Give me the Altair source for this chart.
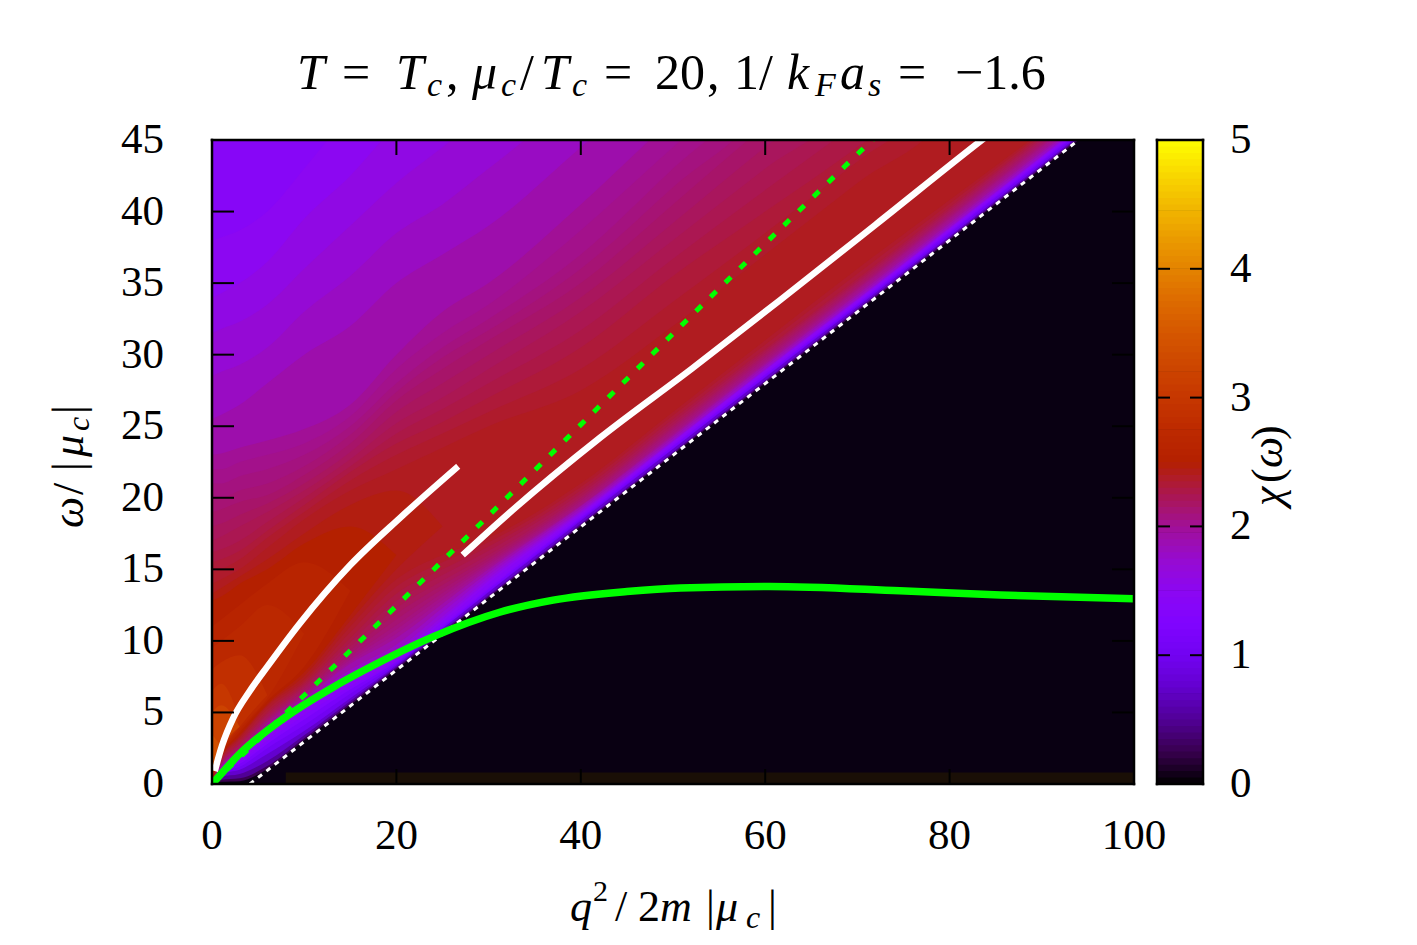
import altair as alt
import pandas as pd

# ---------- data ----------
x_grid = [0, 1, 3, 6, 10, 15, 20, 25, 30, 40, 50, 60, 70, 80, 90, 100]

# chi level: (lower boundary of region chi>=level, upper boundary); upper list is open (above the frame) once it ends
contours = [
    (0.25, [.05, .15, .2, 1.05, 3.05, 5.5, 8, 10.5, 13, 18, 23, 28, 33, 38, 43, 48], []),
    (0.5, [.1, .3, .4, 1.25, 3.2, 5.65, 8.1, 10.6, 13.1, 18.1, 23.1, 28.1, 33.1, 38.1, 43.1, 48.1], []),
    (0.75, [.1, .5, .7, 1.6, 3.4, 5.8, 8.2, 10.7, 13.2, 18.2, 23.2, 28.2, 33.2, 38.2, 43.2, 48.2], []),
    (1.0, [.1, .7, 1.0, 2.1, 3.7, 6, 8.3, 10.85, 13.4, 18.4, 23.4, 28.4, 33.35, 38.3, 43.3, 48.3], []),
    (1.15, [.1, .8, 1.2, 2.5, 4.1, 6.3, 8.4, 10.9, 13.45, 18.5, 23.45, 28.45, 33.45, 38.45, 43.45, 48.4], []),
    (1.3, [.1, .85, 1.4, 2.8, 4.5, 6.6, 8.5, 11, 13.6, 18.6, 23.6, 28.6, 33.55, 38.55, 43.55, 48.5], []),
    (1.4, [.1, .9, 1.55, 3.0, 4.8, 6.8, 8.55, 11.1, 13.7, 18.7, 23.65, 28.65, 33.6, 38.6, 43.6, 48.6], []),
    (1.5, [.1, .95, 1.7, 3.2, 5.1, 7, 8.65, 11.3, 14, 18.8, 23.75, 28.75, 33.7, 38.7, 43.7, 48.7],
     [38, 38.2, 38.7, 40, 43, 47, 51]),
    (1.6, [.1, 1, 1.8, 3.4, 5.2, 7.2, 8.9, 11.5, 14.2, 18.9, 23.9, 28.9, 33.8, 38.8, 43.8, 48.8],
     [34, 34.3, 35, 36.5, 39.5, 42.5, 46, 48, 50]),
    (1.7, [.1, 1.05, 1.95, 3.6, 5.4, 7.5, 9.1, 11.7, 14.4, 19, 23.95, 28.95, 33.85, 38.85, 43.85, 48.9],
     [31.5, 31.8, 32.3, 33.5, 36, 39, 42, 44.5, 47, 51]),
    (1.8, [.1, 1.1, 2.1, 3.8, 5.6, 7.8, 9.4, 12, 14.6, 19.1, 24, 29, 33.9, 38.9, 43.9, 49],
     [28.5, 28.8, 29.3, 30.5, 33, 35.5, 38.5, 40.5, 43, 48, 52]),
    (1.9, [.2, 1.15, 2.2, 3.95, 5.8, 8, 9.75, 12.3, 14.8, 19.25, 24.15, 29.15, 34.05, 39.05, 44.05, 49],
     [25.5, 25.8, 26.5, 28, 30, 32, 35, 37, 39, 44.5, 50]),
    (2.0, [.2, 1.2, 2.3, 4.1, 6, 8.4, 10.2, 12.6, 15, 19.4, 24.3, 29.3, 34.2, 39.2, 44.2, 49],
     [23, 23.1, 23.5, 24, 24.8, 26.5, 30, 33, 35, 40.5, 46.5, 52]),
    (2.04, [.2, 1.25, 2.35, 4.2, 6.1, 8.55, 10.5, 12.85, 15.15, 19.45, 24.4, 29.4, 34.35, 39.35, 44.35, 49.3],
     [22, 22, 22.5, 23, 23.8, 25.7, 29, 31.5, 33.5, 38.7, 44.5, 50]),
    (2.08, [.2, 1.3, 2.4, 4.3, 6.2, 8.7, 10.8, 13.1, 15.3, 19.5, 24.5, 29.5, 34.5, 39.5, 44.5, 49.5],
     [21, 21, 21.5, 22, 23, 25, 28, 30.5, 32.5, 37, 43, 49]),
    (2.12, [.2, 1.35, 2.45, 4.4, 6.3, 8.9, 11.1, 13.35, 15.45, 19.65, 24.65, 29.65, 34.6, 39.6, 44.6, 49.6],
     [20, 20, 20.5, 21, 22.2, 24.4, 27.4, 29.8, 31.7, 36, 41.7, 47.5]),
    (2.16, [.2, 1.4, 2.5, 4.5, 6.4, 9.1, 11.5, 13.6, 15.6, 19.8, 24.8, 29.8, 34.7, 39.7, 44.7, 49.7],
     [19, 19.2, 19.7, 20.2, 21.6, 23.8, 26.8, 29, 31, 35, 40.5, 46, 51]),
    (2.2, [.2, 1.45, 2.6, 4.6, 6.55, 9.35, 11.9, 13.9, 15.8, 19.95, 24.95, 29.95, 34.85, 39.85, 44.85, 49.85],
     [18, 18.2, 18.8, 19.6, 21, 23.2, 26, 28, 30, 34, 39.2, 44.5, 49.5]),
    (2.24, [.2, 1.5, 2.7, 4.7, 6.7, 9.6, 12.3, 14.2, 16, 20.1, 25.1, 30.1, 35, 40, 45, 50],
     [17, 17.3, 18, 19, 20.5, 22.7, 25.2, 27, 29, 33, 38, 43, 48]),
    (2.28, [.2, 1.55, 2.8, 4.85, 6.85, 9.9, 12.8, 14.6, 16.3, 20.3, 25.3, 30.25, 35.15, 40.15, 45.15, 50.15],
     [16.2, 16.4, 17, 18.3, 20, 22.2, 24.5, 26.2, 28, 31.7, 36.7, 41.5, 46.2, 51]),
    (2.32, [.2, 1.6, 2.9, 5, 7, 10.2, 13.3, 15, 16.6, 20.5, 25.5, 30.4, 35.3, 40.3, 45.3, 50.3],
     [15.5, 15.7, 16.3, 17.7, 19.5, 21.8, 23.8, 25.3, 27, 30.5, 35.5, 40, 44.5, 49.5]),
    (2.36, [.25, 1.7, 3.05, 5.2, 7.15, 10.6, 13.8, 15.5, 16.9, 20.75, 25.75, 30.7, 35.65, 40.55, 45.45, 50.45],
     [14.8, 15, 15.7, 17.2, 19, 21.2, 23, 24.5, 26, 29, 33.7, 38.5, 43.5, 48.5]),
    (2.4, [.3, 1.8, 3.2, 5.4, 7.3, 11, 14.3, 16, 17.2, 21, 26, 31, 36, 40.8, 45.6, 50.6],
     [14, 14.3, 15, 16.5, 18.5, 20.5, 22, 23.5, 25, 27.5, 32, 37, 42, 47]),
    (2.45, [.3, 1.85, 3.3, 5.5, 7.55, 11.4, 15, 18], [13.3, 13.7, 14.5, 15.7, 17.5, 19.5, 20.5, 18]),
    (2.5, [.3, 1.9, 3.4, 5.6, 7.8, 11.8, 16], [12.8, 13.1, 14, 15, 16.8, 18, 16]),
    (2.6, [.4, 2, 3.6, 5.8, 8.2, 13.5], [11, 11.5, 12.5, 14, 15.5, 13.5]),
    (2.7, [.5, 2.1, 3.8, 6, 10.5], [9.5, 10, 11, 12.5, 10.5]),
    (2.85, [.6, 2.2, 4, 6.2], [8, 8.5, 9, 6.2]),
    (3.0, [.7, 2.3, 4.5], [6.5, 7, 4.5]),
    (3.2, [.8, 2.4, 4], [5, 5.5, 4]),
    (3.4, [.9, 2.6], [3.5, 2.6]),
]

white_left_x = [0.3, 1.1, 2.3, 4.1, 6, 9.5, 15, 20.4, 26.7]
white_left_y = [0.9, 2.7, 4.6, 6.5, 8.2, 11.2, 15.3, 18.6, 22.2]
white_right_x = [27.2, 32, 42.1, 52, 61.6, 72, 83.3, 84.5]
white_right_y = [16, 18.8, 24.2, 29, 33.8, 39.1, 44.9, 45.5]
dashed_x = [0, 9.2, 24.7, 53.7, 71.6, 75]
dashed_y = [0, 5.7, 15.4, 33.8, 45, 47.1]
dotted_x = [4.1, 94]
dotted_y = [0, 45]
green_x = [0.3, 3, 7.7, 13.1, 16.8, 24, 31.2, 37, 45, 50.8, 60.5, 74.6, 85.5, 100]
green_y = [0.2, 2.1, 4.55, 6.75, 8.05, 10.3, 12, 12.85, 13.45, 13.7, 13.8, 13.5, 13.2, 12.95]
floor_x = [8, 100]
floor_top = [0.8, 0.8]

x_ticks = [0, 20, 40, 60, 80, 100]
y_ticks = [0, 5, 10, 15, 20, 25, 30, 35, 40, 45]
cb_ticks = [0, 1, 2, 3, 4, 5]
cb_stops = [i / 20 for i in range(100)]

palette_domain = [0, .25, .5, .75, 1, 1.25, 1.5, 1.75, 2, 2.25, 2.5, 2.75, 3, 3.25, 3.5, 3.75, 4, 4.25, 4.5, 4.75, 5]
palette_range = ["#000000", "#39004f", "#510096", "#6301ce", "#7202f2", "#8004ff", "#8c07f2", "#970bce",
                 "#a11096", "#ab174f", "#b42000", "#bd2a00", "#c63700", "#cd4600", "#d55700", "#dd6b00",
                 "#e48300", "#eb9d00", "#f2ba00", "#f9da00", "#ffff00"]

# ---------- text pieces: text, left px, baseline px, size, italic ----------
FONT = "Liberation Serif"
title_pieces = [
    ("T", 297, 88, 50, True), ("=", 342, 88, 50, False), ("T", 396, 88, 50, True), ("c", 427, 95, 34, True),
    (",", 446, 88, 50, False), ("μ", 472, 88, 50, True), ("c", 501, 95, 34, True), ("/", 520, 88, 50, False),
    ("T", 541, 88, 50, True), ("c", 572, 95, 34, True), ("=", 604, 88, 50, False), ("20", 655, 88, 50, False),
    (",", 707, 88, 50, False), ("1", 734, 88, 50, False), ("/", 759, 88, 50, False), ("k", 787, 88, 50, True),
    ("F", 815, 95, 34, True), ("a", 840, 88, 50, True), ("s", 868, 95, 34, True), ("=", 898, 88, 50, False),
    ("−1.6", 955, 88, 50, False),
]
xtitle_pieces = [
    ("q", 570, 920, 44, True), ("2", 593, 900, 30, False), ("/", 615, 920, 44, False), ("2", 638, 920, 44, False),
    ("m", 660, 920, 44, True), ("|", 706, 920, 44, False), ("μ", 716, 920, 44, True), ("c", 746, 927, 32, True),
    ("|", 768, 920, 44, False),
]
ytitle_pieces = [
    ("ω", 83, 527, 44, True), ("/", 83, 494, 44, False), ("|", 83, 470, 44, False), ("μ", 83, 456, 44, True),
    ("c", 89, 430, 32, True), ("|", 83, 413, 44, False),
]
cb_title_pieces = [
    ("χ", 1282, 505, 44, True), ("(", 1282, 482, 44, False), ("ω", 1282, 467, 44, True), (")", 1282, 439, 44, False),
]

PLOT_LEFT, PLOT_TOP, W, H = 212, 139, 922, 644
CB_LEFT, CB_W = 1157, 46
BLACK_BG = "#090012"
LABEL_SIZE = 43

sx = alt.Scale(domain=[0, 100], nice=False, zero=False)
sy = alt.Scale(domain=[0, 45], nice=False, zero=False)
sc = alt.Scale(domain=palette_domain, range=palette_range, interpolate="rgb")


def X(field="x"):
    return alt.X(f"{field}:Q", scale=sx, axis=None)


def Y(field="y"):
    return alt.Y(f"{field}:Q", scale=sy, axis=None)


layers = []

# floor band at omega ~ 0
layers.append(
    alt.Chart(pd.DataFrame({"x": floor_x, "y": floor_top, "y0": [0, 0]}))
    .mark_area(clip=True, color="#1a0f06")
    .encode(x=X(), y=Y(), y2="y0:Q")
)

# colour field: nested regions chi >= level, painted from low to high
for chi, low, high in contours:
    n = len(low)
    top = list(high) + [60] * (n - len(high))
    df = pd.DataFrame({"x": x_grid[:n], "low": low, "top": top, "chi": [chi] * n})
    layers.append(
        alt.Chart(df)
        .mark_area(clip=True, interpolate="monotone")
        .encode(x=X(), y=Y("low"), y2="top:Q", color=alt.Color("chi:Q", scale=sc, legend=None))
    )


def line(xs, ys, color, width, dash=None, cap="butt"):
    kw = dict(clip=True, color=color, strokeWidth=width, strokeCap=cap, interpolate="monotone")
    if dash:
        kw["strokeDash"] = dash
    return alt.Chart(pd.DataFrame({"x": xs, "y": ys, "i": range(len(xs))})).mark_line(**kw).encode(
        x=X(), y=Y(), order="i:Q"
    )


layers.append(line(dotted_x, dotted_y, "white", 3, dash=[5, 5.5]))
layers.append(line(dashed_x, dashed_y, "#00ff00", 5, dash=[8, 12.5]))
layers.append(line(white_left_x, white_left_y, "white", 6.5))
layers.append(line(white_right_x, white_right_y, "white", 6.5))
layers.append(line(green_x, green_y, "#00ff00", 7.5, cap="round"))

# inward ticks
xt = pd.DataFrame({"x": x_ticks[1:-1]})
yt = pd.DataFrame({"y": y_ticks[1:-1]})
layers.append(alt.Chart(xt).mark_rule(color="black", strokeWidth=2).encode(
    x=X(), y=alt.value(0), y2=alt.value(15)))
layers.append(alt.Chart(xt).mark_rule(color="black", strokeWidth=2).encode(
    x=X(), y=alt.value(H - 15), y2=alt.value(H)))
layers.append(alt.Chart(yt).mark_rule(color="black", strokeWidth=2).encode(
    y=Y(), x=alt.value(0), x2=alt.value(22)))
layers.append(alt.Chart(yt).mark_rule(color="black", strokeWidth=2).encode(
    y=Y(), x=alt.value(W - 22), x2=alt.value(W)))

# tick labels
layers.append(alt.Chart(pd.DataFrame({"x": x_ticks})).mark_text(
    font=FONT, fontSize=LABEL_SIZE, align="center", baseline="alphabetic", color="black"
).encode(x=X(), y=alt.value(848 - PLOT_TOP), text="x:N"))
layers.append(alt.Chart(pd.DataFrame({"y": y_ticks})).mark_text(
    font=FONT, fontSize=LABEL_SIZE, align="right", baseline="middle", color="black"
).encode(y=Y(), x=alt.value(164 - PLOT_LEFT), text="y:N"))


def frame(w, h):
    out = []
    one = pd.DataFrame({"a": [0]})
    for (a, b, c, d) in [(0, w, 0, 0), (0, w, h, h), (0, 0, 0, h), (w, w, 0, h)]:
        out.append(alt.Chart(one).mark_rule(color="black", strokeWidth=2.5, strokeCap="square").encode(
            x=alt.value(a), x2=alt.value(b), y=alt.value(c), y2=alt.value(d)))
    return out


def text_layers(pieces, ox, oy, angle=0):
    out = []
    for text, px, py, size, italic in pieces:
        mk = dict(font=FONT, fontSize=size, align="left", baseline="alphabetic", color="black", angle=angle)
        if italic:
            mk["fontStyle"] = "italic"
        out.append(alt.Chart(pd.DataFrame({"t": [text]})).mark_text(**mk).encode(
            x=alt.value(px - ox), y=alt.value(py - oy), text="t:N"))
    return out


layers += frame(W, H)
layers += text_layers(title_pieces, PLOT_LEFT, PLOT_TOP)
layers += text_layers(xtitle_pieces, PLOT_LEFT, PLOT_TOP)
layers += text_layers(ytitle_pieces, PLOT_LEFT, PLOT_TOP, angle=270)

main = alt.layer(*layers).properties(width=W, height=H)

# colour box
cb_df = pd.DataFrame({"lo": cb_stops, "hi": [v + 0.055 for v in cb_stops], "chi": [v + 0.025 for v in cb_stops]})
scb = alt.Scale(domain=[0, 5], nice=False, zero=False)
cb_layers = [
    alt.Chart(cb_df).mark_rect(clip=True).encode(
        y=alt.Y("lo:Q", scale=scb, axis=None),
        y2="hi:Q",
        x=alt.value(0), x2=alt.value(CB_W),
        color=alt.Color("chi:Q", scale=sc, legend=None),
    )
]
cbt = pd.DataFrame({"y": cb_ticks[1:-1]})
cb_layers.append(alt.Chart(cbt).mark_rule(color="black", strokeWidth=2).encode(
    y=alt.Y("y:Q", scale=scb, axis=None), x=alt.value(0), x2=alt.value(13)))
cb_layers.append(alt.Chart(cbt).mark_rule(color="black", strokeWidth=2).encode(
    y=alt.Y("y:Q", scale=scb, axis=None), x=alt.value(CB_W - 13), x2=alt.value(CB_W)))
cb_layers.append(alt.Chart(pd.DataFrame({"y": cb_ticks})).mark_text(
    font=FONT, fontSize=LABEL_SIZE, align="left", baseline="middle", color="black"
).encode(y=alt.Y("y:Q", scale=scb, axis=None), x=alt.value(1230 - CB_LEFT), text="y:N"))
cb_layers += frame(CB_W, H)
cb_layers += text_layers(cb_title_pieces, CB_LEFT, PLOT_TOP, angle=270)
bar = alt.layer(*cb_layers).properties(width=CB_W, height=H)

chart = (
    alt.hconcat(main, bar, spacing=CB_LEFT - PLOT_LEFT - W, bounds="flush")
    .resolve_scale(color="independent", x="independent", y="independent")
    .configure_view(fill=BLACK_BG, stroke=None)
    .properties(padding={"left": 40, "top": 41, "right": 5, "bottom": 5}, background="white")
)

chart.save("out.html", embed_options={"renderer": "svg", "actions": False})
